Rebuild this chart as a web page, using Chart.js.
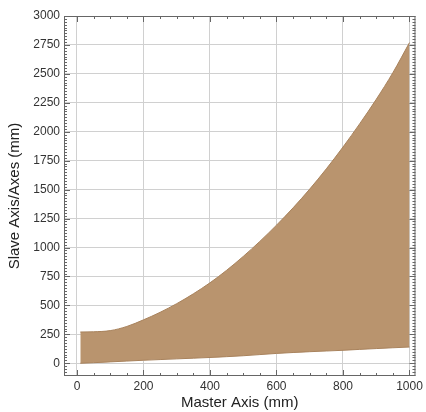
<!DOCTYPE html>
<html>
<head>
<meta charset="utf-8">
<script src="https://cdn.jsdelivr.net/npm/chart.js@4/dist/chart.umd.min.js"></script>
<style>
  html, body { margin: 0; padding: 0; background: #fff; }
  #wrap { width: 426px; height: 412px; }
</style>
</head>
<body>
<div id="wrap"><canvas id="grafico"></canvas></div>
<script>
// datos
const masterAxis = [10, 50, 100, 150, 200, 250, 300, 350, 400, 450, 500, 550, 600, 650, 700, 750, 800, 850, 900, 950, 1000];
const slaveMin   = [0, 5, 12, 19, 26, 32, 38, 44, 50, 57, 65, 75, 85, 93, 100, 106, 112, 120, 127, 134, 140];
const slaveMax   = [270, 272, 282, 318, 375, 440, 515, 600, 695, 803, 923, 1053, 1193, 1343, 1505, 1680, 1868, 2068, 2280, 2510, 2770];

const xMajor = 200, xMinor = 50;
const yMajor = 250, yMinor = 25;

const colorRelleno = "#b9946e";
const colorBorde = "#a8825c";

function puntos(serie) {
  return masterAxis.map((x, i) => ({ x: x, y: serie[i] }));
}

// marco y marcas hacia adentro
const marcoPlugin = {
  id: "marco",
  afterDraw(chart) {
    const ctx = chart.ctx;
    const a = chart.chartArea;
    const sx = chart.scales.x;
    const sy = chart.scales.y;
    ctx.save();
    ctx.strokeStyle = "#666";
    ctx.lineWidth = 1;
    ctx.strokeRect(a.left + 0.5, a.top + 0.5, a.right - a.left - 1, a.bottom - a.top - 1);
    ctx.beginPath();
    sx.ticks.forEach(t => {
      const px = Math.round(sx.getPixelForValue(t.value)) + 0.5;
      const len = t.value % xMajor === 0 ? 6 : 3;
      ctx.moveTo(px, a.bottom); ctx.lineTo(px, a.bottom - len);
      ctx.moveTo(px, a.top); ctx.lineTo(px, a.top + len);
    });
    sy.ticks.forEach(t => {
      const py = Math.round(sy.getPixelForValue(t.value)) + 0.5;
      const len = t.value % yMajor === 0 ? 6 : 3;
      ctx.moveTo(a.left, py); ctx.lineTo(a.left + len, py);
      ctx.moveTo(a.right, py); ctx.lineTo(a.right - len, py);
    });
    ctx.stroke();
    ctx.restore();
  }
};

new Chart(document.getElementById("grafico"), {
  type: "line",
  data: {
    datasets: [
      {
        label: "min",
        data: puntos(slaveMin),
        borderColor: colorBorde,
        borderWidth: 1,
        pointRadius: 0,
        fill: false,
        cubicInterpolationMode: "monotone"
      },
      {
        label: "max",
        data: puntos(slaveMax),
        borderColor: colorBorde,
        borderWidth: 1,
        pointRadius: 0,
        backgroundColor: colorRelleno,
        fill: "-1",
        cubicInterpolationMode: "monotone"
      }
    ]
  },
  plugins: [marcoPlugin],
  options: {
    responsive: true,
    maintainAspectRatio: false,
    animation: false,
    layout: { padding: { left: 0, right: 9, top: 16, bottom: 0 } },
    plugins: {
      legend: { display: false },
      tooltip: { enabled: false }
    },
    scales: {
      x: {
        type: "linear",
        min: -39,
        max: 1018,
        afterFit: s => { s.height = 36; },
        border: { display: false },
        grid: {
          drawTicks: false,
          color: c => (c.tick && c.tick.value % xMajor === 0) ? "#d0d0d0" : "rgba(0,0,0,0)"
        },
        ticks: {
          stepSize: xMinor,
          includeBounds: false,
          autoSkip: false,
          maxRotation: 0,
          padding: 3,
          color: "#333",
          font: { family: "Liberation Sans, Arial, sans-serif", size: 12 },
          callback: v => v % xMajor === 0 ? v : ""
        },
        title: {
          display: true,
          text: "Master Axis (mm)",
          color: "#222",
          padding: { top: 0, bottom: 0 },
          font: { family: "Liberation Sans, Arial, sans-serif", size: 15 }
        }
      },
      y: {
        type: "linear",
        min: -110,
        max: 3000,
        afterFit: s => { s.width = 64; },
        border: { display: false },
        grid: {
          drawTicks: false,
          color: c => (c.tick && c.tick.value % yMajor === 0) ? "#d0d0d0" : "rgba(0,0,0,0)"
        },
        ticks: {
          stepSize: yMinor,
          includeBounds: false,
          autoSkip: false,
          padding: 4,
          color: "#333",
          font: { family: "Liberation Sans, Arial, sans-serif", size: 12 },
          callback: v => v % yMajor === 0 ? v : ""
        },
        title: {
          display: true,
          text: "Slave Axis/Axes (mm)",
          color: "#222",
          padding: { top: 6, bottom: 0 },
          font: { family: "Liberation Sans, Arial, sans-serif", size: 15 }
        }
      }
    }
  }
});
</script>
</body>
</html>
